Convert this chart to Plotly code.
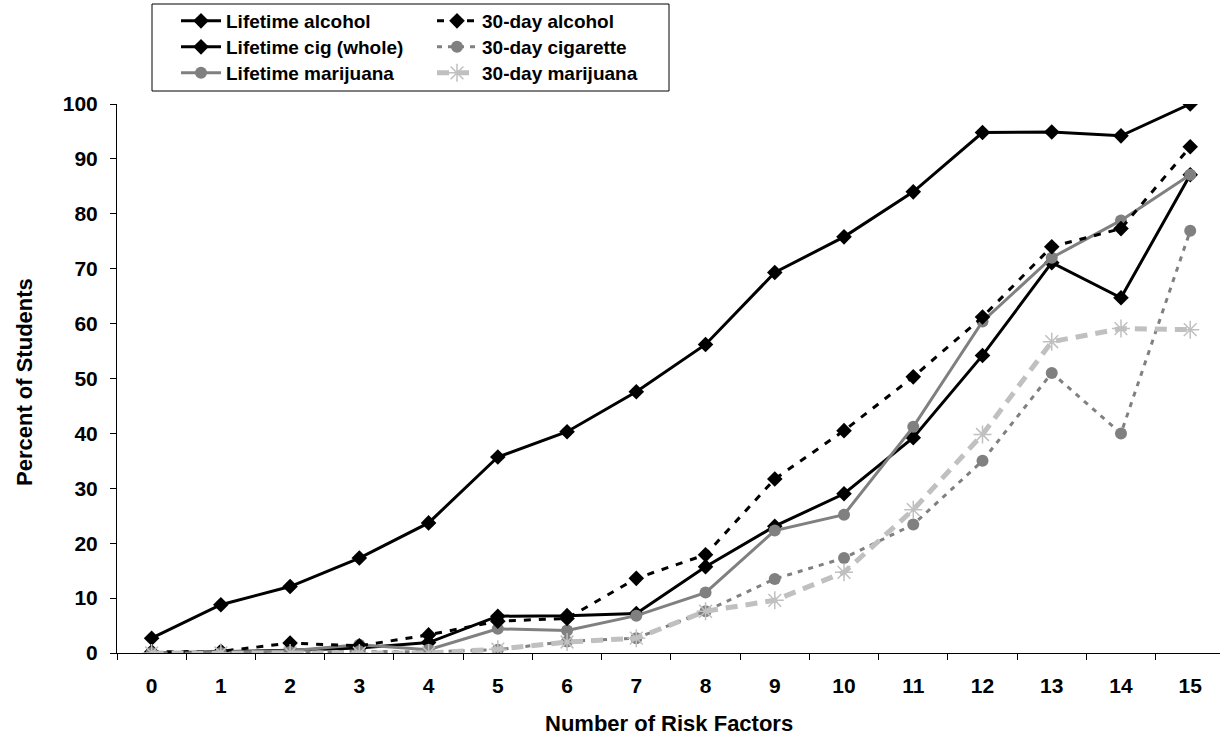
import plotly.graph_objects as go

# Number of risk factors (x categories)
risk_factors = [str(i) for i in range(16)]

# Percent of students reporting each behaviour
lifetime_alcohol = [2.7, 8.8, 12.1, 17.3, 23.7, 35.7, 40.3, 47.6, 56.2, 69.3, 75.8, 84.0, 94.8, 94.9, 94.2, 100.0]
lifetime_cig = [0.0, 0.2, 0.5, 0.9, 1.9, 6.7, 6.8, 7.2, 15.7, 23.1, 29.0, 39.2, 54.2, 71.1, 64.7, 87.1]
lifetime_marijuana = [0.0, 0.1, 0.4, 1.5, 0.6, 4.4, 4.1, 6.8, 11.0, 22.3, 25.2, 41.2, 60.4, 72.0, 78.8, 87.1]
day30_alcohol = [0.2, 0.3, 1.8, 1.3, 3.3, 5.8, 6.3, 13.6, 17.9, 31.7, 40.5, 50.3, 61.2, 74.0, 77.3, 92.2]
day30_cigarette = [0.0, 0.0, 0.2, 0.3, 0.2, 0.6, 2.1, 2.7, 7.6, 13.5, 17.3, 23.4, 35.0, 51.0, 40.0, 76.9]
day30_marijuana = [0.0, 0.0, 0.0, 0.0, 0.0, 0.7, 2.0, 2.7, 7.6, 9.6, 14.7, 26.1, 39.8, 56.7, 59.1, 58.9]

y_ticks = list(range(0, 101, 10))

BLACK = "#000000"
GRAY = "#808080"
LIGHT = "#c0c0c0"
FONT = "Liberation Sans, Arial, sans-serif"

# Plot area in pixels
W, H = 1220, 735
ML, MR, MT, MB = 117, 0, 104, 82
PW, PH = W - ML - MR, H - MT - MB


def px_x(px):
    return (px - ML) / PW


def px_y(py):
    return (H - MB - py) / PH


# Legend grid: two columns (left edge in px) by three rows (centre in px)
LEG_COLS = [176, 432]
LEG_ROWS = [21, 47, 73]

series = [
    # name, values, line, marker, (column, row)
    ("Lifetime alcohol", lifetime_alcohol,
     dict(color=BLACK, width=3), dict(symbol="diamond", size=12, color=BLACK), (0, 0)),
    ("Lifetime cig (whole)", lifetime_cig,
     dict(color=BLACK, width=3), dict(symbol="diamond", size=12, color=BLACK), (0, 1)),
    ("Lifetime marijuana", lifetime_marijuana,
     dict(color=GRAY, width=3), dict(symbol="circle", size=12, color=GRAY), (0, 2)),
    ("30-day alcohol", day30_alcohol,
     dict(color=BLACK, width=3, dash="7px,8px"), dict(symbol="diamond", size=12, color=BLACK), (1, 0)),
    ("30-day cigarette", day30_cigarette,
     dict(color=GRAY, width=3, dash="5px,6px"), dict(symbol="circle", size=12, color=GRAY), (1, 1)),
    ("30-day marijuana", day30_marijuana,
     dict(color=LIGHT, width=5, dash="12px,8px"),
     dict(symbol="asterisk-open", size=15, color=LIGHT, line=dict(color=LIGHT, width=1.5)), (1, 2)),
]

fig = go.Figure()
legends = {}
for i, (name, values, line, marker, (col, row)) in enumerate(series):
    key = "legend" if i == 0 else f"legend{i + 1}"
    fig.add_trace(go.Scatter(x=risk_factors, y=values, name=name, mode="lines+markers",
                             legend=key, line=line, marker=marker))
    legends[key] = dict(
        orientation="v", xanchor="left", yanchor="middle",
        x=px_x(LEG_COLS[col]), y=px_y(LEG_ROWS[row]),
        borderwidth=0, bgcolor="rgba(0,0,0,0)", itemwidth=40,
        font=dict(family=FONT, size=19, weight="bold"),
    )

fig.update_layout(
    width=W, height=H,
    margin=dict(l=ML, r=MR, t=MT, b=MB),
    paper_bgcolor="white", plot_bgcolor="white",
    font=dict(family=FONT, color=BLACK, size=21, weight="bold"),
    showlegend=True,
    xaxis=dict(
        type="category", range=[-0.5, 15.43],
        showline=True, linecolor=BLACK, linewidth=1,
        ticks="outside", tickson="boundaries", ticklen=6, tickcolor=BLACK,
        showgrid=False, zeroline=False, ticklabelstandoff=14,
        tickfont=dict(size=21, weight="bold"),
    ),
    yaxis=dict(
        range=[0, 100], tickvals=y_ticks,
        showline=True, linecolor=BLACK, linewidth=1,
        ticks="outside", ticklen=6, tickcolor=BLACK,
        showgrid=False, zeroline=False, ticklabelstandoff=8,
        tickfont=dict(size=21, weight="bold"),
    ),
    shapes=[
        # frame around the legend block
        dict(type="rect", xref="paper", yref="paper",
             x0=px_x(152), x1=px_x(669), y0=px_y(91), y1=px_y(4),
             line=dict(color=BLACK, width=1), fillcolor="rgba(0,0,0,0)", layer="below"),
    ],
    annotations=[
        dict(text="Number of Risk Factors", xref="paper", yref="paper",
             x=px_x(669), y=px_y(723), xanchor="center", yanchor="middle",
             showarrow=False, font=dict(size=22, weight="bold")),
        dict(text="Percent of Students", xref="paper", yref="paper",
             x=px_x(24), y=px_y(382), xanchor="center", yanchor="middle",
             textangle=-90, showarrow=False, font=dict(size=22, weight="bold")),
    ],
    **legends,
)

fig.write_html("out.html")
